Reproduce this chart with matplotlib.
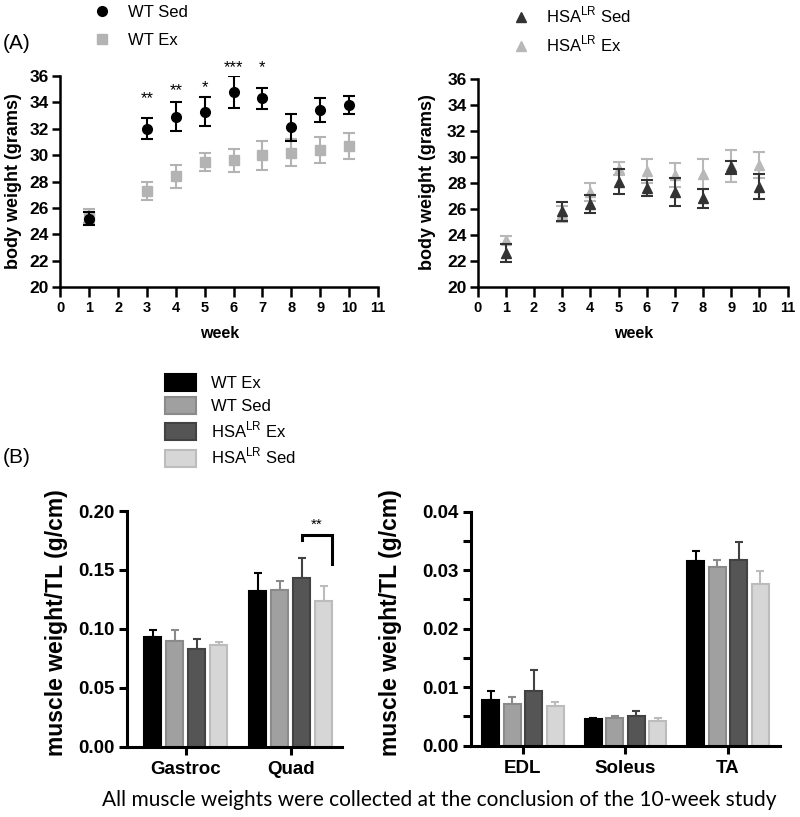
import matplotlib
matplotlib.use("Agg")
import matplotlib.pyplot as plt
from matplotlib.lines import Line2D
from matplotlib.patches import Patch
import numpy as np

plt.rcParams["font.family"] = ["Liberation Sans", "DejaVu Sans"]
plt.rcParams["mathtext.fontset"] = "custom"
plt.rcParams["mathtext.rm"] = "Liberation Sans"
plt.rcParams["mathtext.bf"] = "Liberation Sans:bold"

# --- (A) poids corporel par semaine ------------------------------------------
weeks = [1, 3, 4, 5, 6, 7, 8, 9, 10]
wt_sed = [25.2, 32.0, 32.9, 33.3, 34.8, 34.3, 32.1, 33.4, 33.8]
wt_sed_err = [0.5, 0.8, 1.1, 1.1, 1.2, 0.8, 1.0, 0.9, 0.7]
wt_ex = [25.4, 27.3, 28.4, 29.5, 29.6, 30.0, 30.2, 30.4, 30.7]
wt_ex_err = [0.55, 0.7, 0.85, 0.7, 0.9, 1.1, 1.0, 1.0, 0.95]
hsa_sed = [22.6, 25.8, 26.4, 28.1, 27.6, 27.3, 26.8, 29.2, 27.7]
hsa_sed_err = [0.7, 0.75, 0.7, 0.95, 0.6, 1.05, 0.75, 0.5, 0.95]
hsa_ex = [23.6, 25.6, 27.3, 29.1, 28.9, 28.6, 28.7, 29.3, 29.4]
hsa_ex_err = [0.3, 0.65, 0.7, 0.5, 0.9, 0.9, 1.15, 1.2, 1.0]

sig_weeks = [3, 4, 5, 6, 7]
sig_labels = ["**", "**", "*", "***", "*"]
sig_y = [34.3, 34.9, 35.1, 36.6, 36.6]

# --- (B) poids musculaire / longueur du tibia --------------------------------
groups = ["WT Ex", "WT Sed", "HSA$^{\\mathrm{LR}}$ Ex", "HSA$^{\\mathrm{LR}}$ Sed"]
left_cats = ["Gastroc", "Quad"]
left_means = [
    [0.093, 0.132],
    [0.090, 0.133],
    [0.083, 0.143],
    [0.086, 0.124],
]
left_errs = [
    [0.006, 0.015],
    [0.009, 0.008],
    [0.008, 0.017],
    [0.003, 0.012],
]
right_cats = ["EDL", "Soleus", "TA"]
right_means = [
    [0.0078, 0.0045, 0.0316],
    [0.0071, 0.0047, 0.0306],
    [0.0093, 0.0050, 0.0318],
    [0.0067, 0.0043, 0.0276],
]
right_errs = [
    [0.0015, 0.0002, 0.0017],
    [0.0013, 0.0004, 0.0011],
    [0.0036, 0.0009, 0.0030],
    [0.0007, 0.0005, 0.0022],
]

bar_fill = ["#000000", "#a0a0a0", "#555555", "#d6d6d6"]
bar_edge = ["#000000", "#8a8a8a", "#424242", "#bcbcbc"]

fig = plt.figure(figsize=(8, 8.17), dpi=100)


def style_scatter_axis(ax, ylab_x, week_y):
    ax.set_xlim(0, 11)
    ax.set_ylim(20, 36)
    ax.set_xticks(range(0, 12))
    ax.set_yticks(range(20, 37, 2))
    for s in ("top", "right"):
        ax.spines[s].set_visible(False)
    for s in ("left", "bottom"):
        ax.spines[s].set_linewidth(1.8)
    ax.tick_params(width=1.8, length=6, pad=2)
    ax.tick_params(axis="x", length=7, pad=3)
    for lab in ax.get_xticklabels():
        lab.set_fontweight("bold")
        lab.set_fontsize(10.5)
    for lab in ax.get_yticklabels():
        lab.set_fontweight("bold")
        lab.set_fontsize(12.5)
    ax.set_xlabel("week", fontsize=11.5, fontweight="bold")
    ax.set_ylabel("body weight (grams)", fontsize=13, fontweight="bold")
    ax.xaxis.set_label_coords(0.503, week_y)
    ax.yaxis.set_label_coords(ylab_x, 0.505)


# --- A gauche : WT
axA1 = fig.add_axes([0.0754, 0.6484, 0.397, 0.2586])
axA1.errorbar(weeks, wt_ex, yerr=wt_ex_err, fmt="s", color="#b3b3b3", ms=6.5,
              capsize=4.5, elinewidth=1.5, capthick=1.5, zorder=2)
axA1.errorbar(weeks, wt_sed, yerr=wt_sed_err, fmt="o", color="#000000", ms=7,
              capsize=4.5, elinewidth=1.5, capthick=1.5, zorder=3)
for w, lab, y in zip(sig_weeks, sig_labels, sig_y):
    axA1.text(w, y, lab, ha="center", va="center", fontsize=12, clip_on=False)
style_scatter_axis(axA1, -0.12, -0.183)

# --- A droite : HSA-LR
axA2 = fig.add_axes([0.597, 0.6491, 0.3875, 0.2542])
axA2.errorbar(weeks, hsa_ex, yerr=hsa_ex_err, fmt="^", color="#b8b8b8", ms=6.5,
              capsize=4.5, elinewidth=1.5, capthick=1.5, zorder=2)
axA2.errorbar(weeks, hsa_sed, yerr=hsa_sed_err, fmt="^", color="#333333", ms=6.5,
              capsize=4.5, elinewidth=1.5, capthick=1.5, zorder=3)
style_scatter_axis(axA2, -0.135, -0.189)

legA1 = [Line2D([], [], ls="", marker="o", color="#000000", ms=7),
         Line2D([], [], ls="", marker="s", color="#b3b3b3", ms=6.5)]
fig.legend(legA1, ["WT Sed", "WT Ex"], loc="upper left", bbox_to_anchor=(0.098, 1.012),
           frameon=False, fontsize=12, handlelength=1.0, handletextpad=1.1, labelspacing=0.75)
legA2 = [Line2D([], [], ls="", marker="^", color="#333333", ms=7),
         Line2D([], [], ls="", marker="^", color="#b8b8b8", ms=7)]
fig.legend(legA2, ["HSA$^{\\mathrm{LR}}$ Sed", "HSA$^{\\mathrm{LR}}$ Ex"], loc="upper left",
           bbox_to_anchor=(0.622, 1.012), frameon=False, fontsize=12, handlelength=1.0,
           handletextpad=1.0, labelspacing=0.5)

fig.text(0.003, 0.947, "(A)", fontsize=15, va="center")
fig.text(0.003, 0.440, "(B)", fontsize=15, va="center")

# --- B : barres
offsets = (np.arange(4) - 1.5) * 0.21
bar_w = 0.165


def draw_bars(ax, cats, means, errs, ylab_x):
    x = np.arange(len(cats))
    for i in range(4):
        ax.bar(x + offsets[i], means[i], width=bar_w, color=bar_fill[i],
               edgecolor=bar_edge[i], linewidth=1.5, zorder=2)
        ax.errorbar(x + offsets[i], means[i], yerr=[np.zeros(len(cats)), errs[i]],
                    fmt="none", ecolor=bar_edge[i], elinewidth=1.5, capsize=3,
                    capthick=1.5, zorder=1)
    ax.set_xticks(x)
    ax.set_xticklabels(cats, fontsize=14, fontweight="bold")
    for s in ("top", "right"):
        ax.spines[s].set_visible(False)
    for s in ("left", "bottom"):
        ax.spines[s].set_linewidth(2.2)
    ax.tick_params(width=2.2, length=6, labelsize=13.5, pad=3)
    ax.tick_params(axis="x", pad=4)
    ax.set_ylabel("muscle weight/TL (g/cm)", fontsize=16.5, fontweight="bold")
    ax.yaxis.set_label_coords(ylab_x, 0.525)


axB1 = fig.add_axes([0.1584, 0.086, 0.269, 0.2885])
draw_bars(axB1, left_cats, left_means, left_errs, -0.273)
axB1.set_xlim(-0.562, 1.489)
axB1.set_ylim(0, 0.20)
axB1.set_yticks([0.00, 0.05, 0.10, 0.15, 0.20])
axB1.set_yticklabels(["0.00", "0.05", "0.10", "0.15", "0.20"], fontweight="bold")

# crochet de significativité sur Quad (HSA Ex vs HSA Sed)
bx0 = 1 + offsets[2]
bx1 = 1 + offsets[3] + bar_w / 2
axB1.plot([bx0, bx0, bx1, bx1], [0.175, 0.180, 0.180, 0.155], color="black",
          lw=2.2, solid_joinstyle="miter", clip_on=False)
axB1.text((bx0 + bx1) / 2, 0.1885, "**", ha="center", va="center", fontsize=11)

axB2 = fig.add_axes([0.5888, 0.0873, 0.386, 0.2864])
draw_bars(axB2, right_cats, right_means, right_errs, -0.223)
axB2.set_xlim(-0.507, 2.507)
axB2.set_ylim(0, 0.04)
axB2.set_yticks([0.00, 0.01, 0.02, 0.03, 0.04])
axB2.set_yticklabels(["0.00", "0.01", "0.02", "0.03", "0.04"], fontweight="bold")
axB2.set_yticks([0.005, 0.015, 0.025, 0.035], minor=True)
axB2.tick_params(axis="y", which="minor", width=2.2, length=6)

legB = [Patch(facecolor=bar_fill[i], edgecolor=bar_edge[i], linewidth=1.5) for i in range(4)]
fig.legend(legB, groups, loc="upper left", bbox_to_anchor=(0.187, 0.561), frameon=False,
           fontsize=12, handlelength=1.9, handleheight=1.2, handletextpad=0.9,
           labelspacing=0.35)

fig.text(0.549, 0.021, "All muscle weights were collected at the conclusion of the 10-week study",
         ha="center", va="center", fontsize=15, family=["Lato", "DejaVu Sans"])

fig.savefig("out.png", dpi=100)
